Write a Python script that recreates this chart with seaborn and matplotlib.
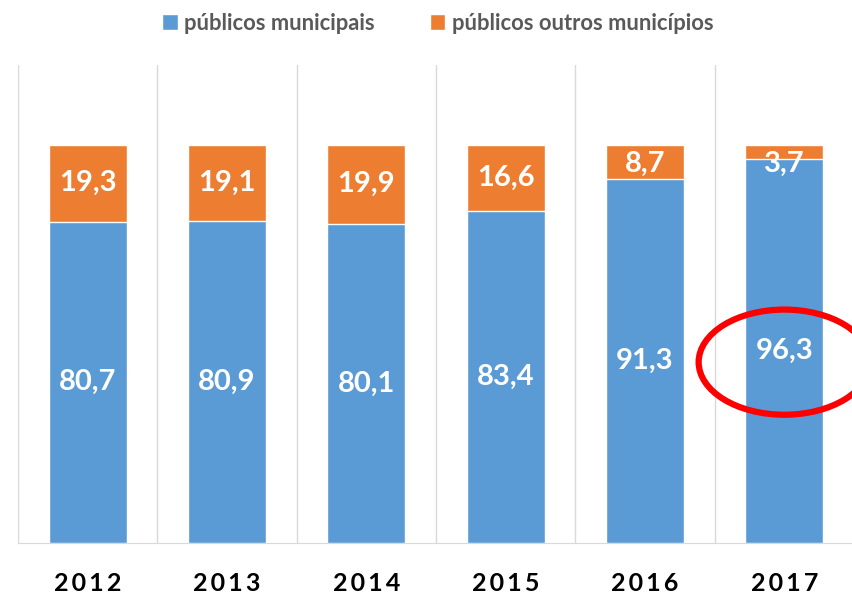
import pandas as pd
import matplotlib.pyplot as plt
import seaborn as sns
from matplotlib.patches import Ellipse, Patch

years = ["2012", "2013", "2014", "2015", "2016", "2017"]
municipais = [80.7, 80.9, 80.1, 83.4, 91.3, 96.3]
outros = [19.3, 19.1, 19.9, 16.6, 8.7, 3.7]

BLUE = "#5B9BD5"
ORANGE = "#ED7D31"

df = pd.DataFrame({"ano": years, "municipais": municipais, "outros": outros})
df["total"] = df["municipais"] + df["outros"]

sns.set_style("white")
plt.rcParams["font.family"] = ["Lato", "DejaVu Sans"]

fig = plt.figure(figsize=(8.53, 5.96), dpi=100)
ax = fig.add_axes([18 / 853, 53 / 596, 836 / 853, 478 / 596])

sns.barplot(data=df, x="ano", y="total", color=ORANGE, width=0.56,
            saturation=1, ax=ax, zorder=2)
sns.barplot(data=df, x="ano", y="municipais", color=BLUE, width=0.56,
            saturation=1, ax=ax, zorder=3)

for i, (m, o) in enumerate(zip(municipais, outros)):
    ax.text(i, m / 2, f"{m:.1f}".replace(".", ","), ha="center", va="center",
            color="white", fontsize=21, fontweight="bold", zorder=5)
    yo = min(m + o / 2, 95.2)
    ax.text(i, yo, f"{o:.1f}".replace(".", ","), ha="center", va="center",
            color="white", fontsize=21, fontweight="bold", zorder=5)

ax.set_xlim(-0.5, 5.5)
ax.set_ylim(0, 120)
for b in [-0.5, 0.5, 1.5, 2.5, 3.5, 4.5, 5.5]:
    ax.axvline(b, color="#D9D9D9", lw=1, zorder=1)

for s in ["top", "right", "left"]:
    ax.spines[s].set_visible(False)
ax.spines["bottom"].set_color("#D9D9D9")
ax.set_yticks([])
ax.set_xlabel("")
ax.set_ylabel("")
ax.tick_params(axis="x", length=0, pad=21)
ax.set_xticks(range(len(years)))
# thin spaces give the letter-spaced look of the year labels
ax.set_xticklabels(["\u2009".join(y) for y in years], fontsize=18,
                   fontweight="bold", color="black")

ell = Ellipse((5.0, 45.4), 1.23, 26.4, fill=False, edgecolor="#FF0000",
              lw=4.5, zorder=6, clip_on=False)
ax.add_patch(ell)

handles = [Patch(facecolor=BLUE, label="públicos municipais"),
           Patch(facecolor=ORANGE, label="públicos outros municípios")]
fig.legend(handles=handles, loc="center", bbox_to_anchor=(438 / 853, 1 - 23 / 596),
           ncol=2, frameon=False, handlelength=0.7, handleheight=0.7,
           handletextpad=0.3, columnspacing=2.5, labelcolor="#595959",
           prop={"weight": "bold", "size": 15.8})

fig.savefig("out.png", dpi=100)
